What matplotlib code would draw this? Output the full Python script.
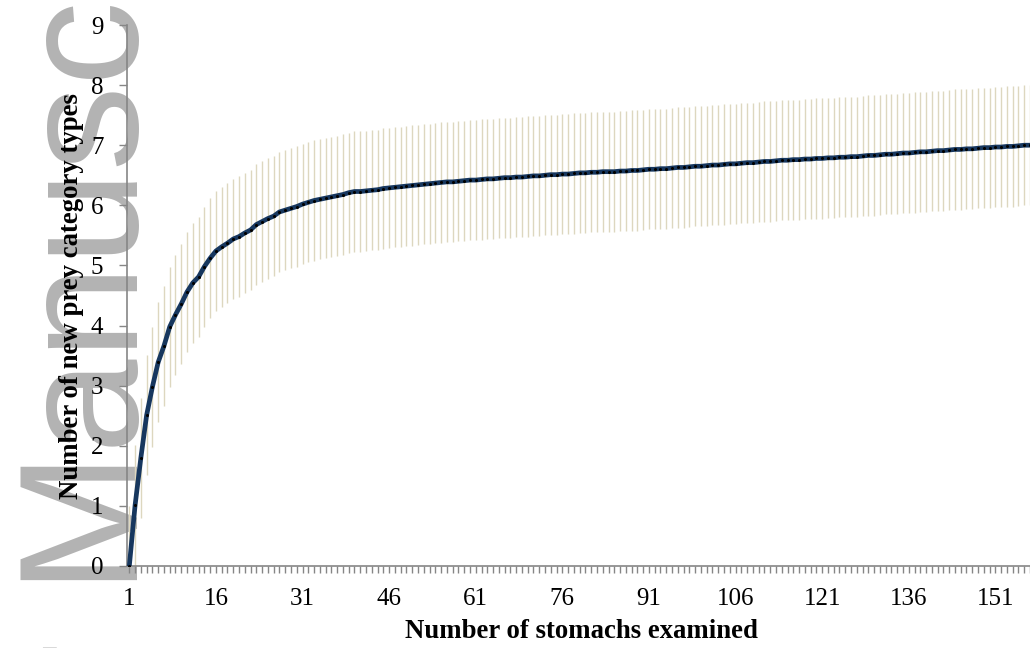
import matplotlib.pyplot as plt

# stomach number (category axis) and cumulative number of prey category types
stomachs = list(range(1, 158))
prey_types = [
    0.00, 1.01, 1.80, 2.51, 2.98, 3.39, 3.66, 3.98, 4.18, 4.36,
    4.56, 4.71, 4.81, 4.98, 5.12, 5.24, 5.31, 5.37, 5.44, 5.48,
    5.54, 5.59, 5.68, 5.73, 5.78, 5.82, 5.89, 5.92, 5.95, 5.98,
    6.02, 6.05, 6.08, 6.10, 6.12, 6.14, 6.16, 6.18, 6.21, 6.23,
    6.23, 6.24, 6.25, 6.26, 6.28, 6.29, 6.30, 6.31, 6.32, 6.33,
    6.34, 6.35, 6.36, 6.37, 6.38, 6.39, 6.39, 6.40, 6.41, 6.42,
    6.42, 6.43, 6.44, 6.44, 6.45, 6.46, 6.46, 6.47, 6.47, 6.48,
    6.49, 6.49, 6.50, 6.51, 6.51, 6.52, 6.52, 6.53, 6.54, 6.54,
    6.55, 6.55, 6.56, 6.56, 6.56, 6.57, 6.57, 6.58, 6.58, 6.59,
    6.60, 6.60, 6.61, 6.61, 6.62, 6.63, 6.63, 6.64, 6.65, 6.65,
    6.66, 6.67, 6.67, 6.68, 6.69, 6.69, 6.70, 6.71, 6.71, 6.72,
    6.73, 6.73, 6.74, 6.75, 6.75, 6.76, 6.76, 6.77, 6.77, 6.78,
    6.78, 6.79, 6.79, 6.80, 6.80, 6.81, 6.81, 6.82, 6.83, 6.83,
    6.84, 6.85, 6.85, 6.86, 6.87, 6.87, 6.88, 6.89, 6.89, 6.90,
    6.91, 6.91, 6.92, 6.93, 6.93, 6.94, 6.94, 6.95, 6.96, 6.96,
    6.97, 6.97, 6.98, 6.98, 6.99, 7.00, 7.00,
]
# standard deviation (error bar half length)
sd = [
    1.00, 1.00, 1.00, 1.00, 1.00, 1.00, 1.00, 1.00, 1.00, 1.00,
    1.00, 1.00, 1.00, 1.00, 1.00, 1.00, 1.00, 1.00, 1.00, 1.00,
    1.00, 1.00, 1.00, 1.00, 1.00, 1.00, 1.00, 1.00, 1.00, 1.00,
    1.00, 1.00, 1.00, 1.00, 1.00, 1.00, 1.00, 1.00, 1.00, 1.00,
    1.00, 1.00, 1.00, 1.00, 1.00, 1.00, 1.00, 1.00, 1.00, 1.00,
    1.00, 1.00, 1.00, 1.00, 1.00, 1.00, 1.00, 1.00, 1.00, 1.00,
    1.00, 1.00, 1.00, 1.00, 1.00, 1.00, 1.00, 1.00, 1.00, 1.00,
    1.00, 1.00, 1.00, 1.00, 1.00, 1.00, 1.00, 1.00, 1.00, 1.00,
    1.00, 1.00, 1.00, 1.00, 1.00, 1.00, 1.00, 1.00, 1.00, 1.00,
    1.00, 1.00, 1.00, 1.00, 1.00, 1.00, 1.00, 1.00, 1.00, 1.00,
    1.00, 1.00, 1.00, 1.00, 1.00, 1.00, 1.00, 1.00, 1.00, 1.00,
    1.00, 1.00, 1.00, 1.00, 1.00, 1.00, 1.00, 1.00, 1.00, 1.00,
    1.00, 1.00, 1.00, 1.00, 1.00, 1.00, 1.00, 1.00, 1.00, 1.00,
    1.00, 1.00, 1.00, 1.00, 1.00, 1.00, 1.00, 1.00, 1.00, 1.00,
    1.00, 1.00, 1.00, 1.00, 1.00, 1.00, 1.00, 1.00, 1.00, 1.00,
    1.00, 1.00, 1.00, 1.00, 1.00, 1.00, 1.00,
]
x_labels = [1, 16, 31, 46, 61, 76, 91, 106, 121, 136, 151]

plt.rcParams['font.family'] = ['Liberation Serif', 'DejaVu Serif']

W, H = 1030, 648
fig = plt.figure(figsize=(W / 100, H / 100), dpi=100)
ax = fig.add_axes([127 / W, 1 - 566 / H, 1 - 127 / W, (566 - 25) / H])
ax.patch.set_alpha(0)
ax.set_zorder(1)

# watermark behind the chart
wm = dict(fontsize=122, color='#b3b3b3', rotation=90, rotation_mode='anchor',
          va='baseline', family=['Liberation Sans', 'DejaVu Sans'], zorder=-5)
fig.text(124 / W, 1 - 580 / H, 'Manuscript', ha='left', **wm)
fig.text(134 / W, 1 - 643 / H, 'Author', ha='right', **wm)

ax.errorbar(stomachs, prey_types, yerr=sd, fmt='none', ecolor='#ddd7bf',
            elinewidth=1.0, capsize=0, zorder=2)
ax.plot(stomachs, prey_types, color='#17375e', lw=3.4, zorder=3,
        marker='o', ms=1.2, mfc='black', mec='black', solid_capstyle='round')

ax.set_xlim(0.6, 156.2)
ax.set_ylim(0, 9)
ax.set_yticks(range(10))
ax.set_xticks(x_labels)
ax.set_xticks(stomachs, minor=True)

for side in ['top', 'right']:
    ax.spines[side].set_visible(False)
for side in ['left', 'bottom']:
    ax.spines[side].set_color('#868686')
    ax.spines[side].set_linewidth(1.2)

ax.tick_params(axis='y', direction='out', length=6, width=1.0, color='#868686',
               labelsize=18, pad=11)
ax.tick_params(axis='x', which='both', direction='out', length=5, width=1.0,
               color='#868686', labelsize=18, pad=11)

ax.set_xlabel('Number of stomachs examined', fontsize=19.3, fontweight='bold')
ax.set_ylabel('Number of new prey category types', fontsize=19.3, fontweight='bold')
ax.xaxis.set_label_coords((581 - 127) / (W - 127), -(619 - 566) / (566 - 25))
ax.yaxis.set_label_coords(-(127 - 84) / (W - 127), (566 - 296) / (566 - 25))

fig.savefig('out.png', dpi=100)
